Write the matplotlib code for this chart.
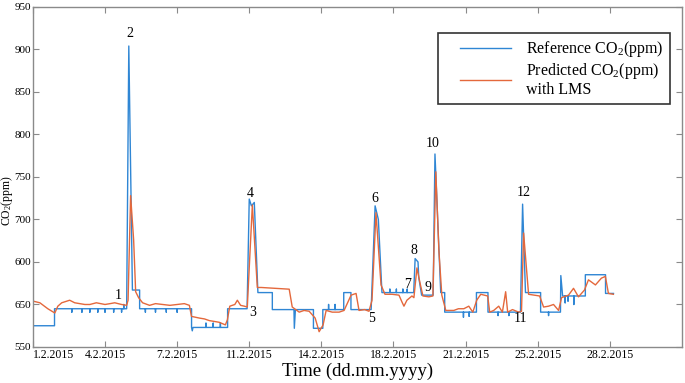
import matplotlib
matplotlib.use("Agg")
import matplotlib.pyplot as plt
from matplotlib.legend_handler import HandlerLine2D

plt.rcParams['font.family'] = ['Liberation Serif', 'DejaVu Serif']
plt.rcParams['mathtext.fontset'] = 'custom'
plt.rcParams['mathtext.rm'] = 'Liberation Serif'
plt.rcParams['mathtext.default'] = 'regular'

# muestras (eje x) y CO2 de referencia
ref_x = [0, 300, 300, 540, 540, 540, 680, 680, 680, 790, 790, 790, 900, 900, 900,
         1000, 1000, 1000, 1120, 1120, 1120, 1230, 1230, 1230, 1260, 1260, 1260, 1300,
         1330, 1380, 1480, 1480, 1560, 1560, 1560, 1700, 1700, 1700, 1850, 1850, 1850,
         2000, 2000, 2000, 2200, 2200, 2210, 2220, 2400, 2400, 2400, 2500, 2500, 2500,
         2600, 2600, 2600, 2700, 2700, 2970, 3000, 3030, 3070, 3120, 3320, 3320, 3620,
         3625, 3640, 3890, 3890, 4020, 4020, 4100, 4100, 4100, 4190, 4190, 4190, 4310,
         4310, 4410, 4410, 4690, 4745, 4790, 4840, 4950, 4950, 4950, 5040, 5040, 5040,
         5130, 5130, 5130, 5190, 5190, 5190, 5280, 5300, 5340, 5350, 5390, 5550, 5575,
         5655, 5710, 5710, 5970, 5970, 5970, 6050, 6050, 6050, 6150, 6150, 6310, 6310,
         6450, 6450, 6450, 6600, 6600, 6600, 6760, 6790, 6830, 7040, 7040, 7150, 7150,
         7150, 7315, 7320, 7345, 7380, 7380, 7380, 7420, 7420, 7420, 7500, 7500, 7500,
         7660, 7660, 7940, 7940, 8050]
ref_y = [575, 575, 595, 595, 591, 595, 595, 591, 595, 595, 591, 595, 595, 591, 595,
         595, 591, 595, 595, 591, 595, 595, 591, 595, 595, 600, 595, 595,
         904, 617, 617, 595, 595, 591, 595, 595, 591, 595, 595, 591, 595,
         595, 591, 595, 595, 573, 569, 573, 573, 578, 573, 573, 578, 573,
         573, 578, 573, 573, 595, 595, 724, 716, 720, 614, 614, 594, 594,
         572, 594, 594, 572, 572, 594, 594, 600, 594, 594, 600, 594, 594,
         614, 614, 594, 594, 716, 700, 614, 614, 618, 614, 614, 618, 614,
         614, 618, 614, 614, 618, 614, 614, 654, 650, 632, 611, 611, 777,
         614, 614, 591, 591, 585, 591, 591, 586, 591, 591, 614, 614, 591,
         591, 587, 591, 591, 587, 591, 591, 718, 614, 614, 591, 591, 587,
         591, 591, 634, 610, 610, 602, 610, 610, 604, 610, 610, 600, 610,
         610, 635, 635, 613, 613]

# CO2 predicho con LMS
lms_x = [0, 97, 207, 304, 346, 400, 510, 580, 650, 720, 790, 880, 1000, 1070, 1135,
         1230, 1300, 1320, 1355, 1397, 1425, 1466, 1521, 1618, 1700, 1800, 1900, 2000,
         2100, 2170, 2199, 2310, 2380, 2448, 2520, 2586, 2669, 2697, 2730, 2800, 2835,
         2880, 2932, 2973, 3043, 3112, 3167, 3554, 3596, 3693, 3760, 3831, 3914, 3969,
         4024, 4066, 4150, 4246, 4315, 4412, 4481, 4522, 4600, 4660, 4702, 4757, 4827,
         4882, 4980, 5076, 5117, 5145, 5186, 5256, 5283, 5325, 5366, 5408, 5490, 5546,
         5587, 5629, 5670, 5725, 5836, 5900, 5975, 6044, 6100, 6154, 6210, 6306, 6334,
         6390, 6459, 6510, 6555, 6583, 6650, 6735, 6775, 6804, 6846, 6873, 6950, 7026,
         7081, 7150, 7219, 7289, 7330, 7427, 7496, 7565, 7648, 7703, 7800, 7883, 7938,
         7980, 8049]
lms_y = [604, 602, 595, 590, 598, 602, 605, 602, 601, 600, 600, 602, 600, 601, 602,
         600, 599, 605, 728, 676, 615, 608, 602, 599, 601, 600, 599, 600,
         601, 599, 586, 584, 583, 581, 580, 579, 576, 582, 598, 600, 605,
         599, 598, 597, 717, 620, 620, 618, 597, 591, 593, 592, 584, 568,
         576, 593, 591, 591, 593, 611, 613, 593, 594, 592, 605, 708, 623,
         612, 612, 611, 603, 598, 605, 610, 608, 643, 626, 610, 609, 610,
         756, 664, 611, 593, 593, 595, 595, 598, 591, 605, 612, 610, 591,
         593, 598, 591, 615, 591, 594, 591, 592, 684, 640, 612, 611, 610,
         597, 598, 600, 593, 608, 611, 619, 609, 617, 629, 623, 631, 633,
         613, 612]

date_labels = ['1.2.2015', '4.2.2015', '7.2.2015', '11.2.2015', '14.2.2015',
               '18.2.2015', '21.2.2015', '25.2.2015', '28.2.2015']
date_ticks = [0, 1000, 2000, 3000, 4000, 5000, 6000, 7000, 8000]
y_ticks = [550, 600, 650, 700, 750, 800, 850, 900, 950]
y_labels = ['550', '650', '600', '700', '750', '800', '850', '900', '950']

# numeros de los eventos
ev_text = ['1', '2', '3', '4', '5', '6', '7', '8', '9', '10', '11', '12']
ev_x = [1190, 1341, 3043, 3015, 4702, 4744, 5200, 5283, 5476, 5546, 6763, 6804]
ev_y = [611, 919, 590, 731, 584, 725, 623, 664, 620, 789, 584, 732]

fig = plt.figure(figsize=(6.85, 3.83), dpi=100)
ax = fig.add_axes([0.048, 0.094, 0.9476, 0.888])

ax.plot(ref_x, ref_y, color='#2f86d4', lw=1.0, label='Reference CO$_2$(ppm)')
ax.plot(lms_x, lms_y, color='#e4683c', lw=1.0,
        label='Predicted CO$_2$(ppm)\nwith LMS')

for t, x, y in zip(ev_text, ev_x, ev_y):
    ax.text(x, y, t, ha='center', va='center', fontsize=10)

ax.set_xlim(0, 9000)
ax.set_ylim(550, 950)
ax.set_xticks(date_ticks)
ax.set_xticklabels(date_labels)
ax.get_xticklabels()[0].set_horizontalalignment('left')
ax.set_yticks(y_ticks)
ax.set_yticklabels(y_labels)
ax.tick_params(direction='in', top=True, right=True, length=4, width=0.8,
               color='#8a8a8a', labelsize=8.5, pad=1.5)
ax.tick_params(axis='y', labelsize=8, pad=1.2)
for s in ax.spines.values():
    s.set_color('#8a8a8a')
    s.set_linewidth(1.0)

ax.set_xlabel('Time (dd.mm.yyyy)', fontsize=13.5, labelpad=1)
ax.set_ylabel('CO$_2$(ppm)', fontsize=8.5, va='center')
ax.yaxis.set_label_coords(-0.0395, 0.43)

leg = ax.legend(loc='upper left', bbox_to_anchor=(438 / 685, 1 - 33 / 383),
                bbox_transform=fig.transFigure, fontsize=11.5, frameon=True,
                fancybox=False, edgecolor='black', borderpad=0.4,
                borderaxespad=0, handlelength=4.2, handletextpad=0.9,
                labelspacing=0.1,
                handler_map={plt.Line2D: HandlerLine2D(xpad=1.0)})
leg.get_frame().set_linewidth(1.2)
for t in leg.get_texts():
    t.set_linespacing(1.05)

fig.savefig('out.png', dpi=100)
